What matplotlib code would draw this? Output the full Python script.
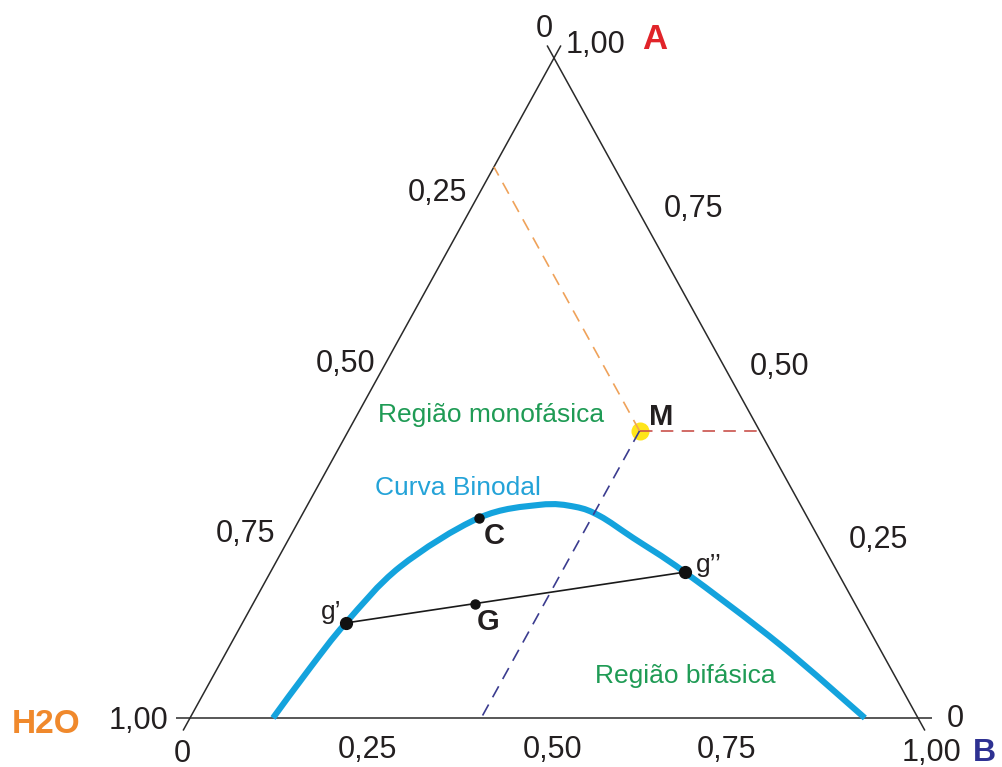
import numpy as np
import matplotlib
matplotlib.use("Agg")
import matplotlib.pyplot as plt
from matplotlib.path import Path
from matplotlib.patches import PathPatch
from matplotlib.transforms import IdentityTransform

plt.rcParams['font.family'] = ['Liberation Sans', 'DejaVu Sans']
plt.rcParams['lines.scale_dashes'] = False

# ---- data: compositions as mass fractions of A and B (water = 1 - A - B) ----
binodal_A = [0.000, 0.076, 0.144, 0.229, 0.303, 0.323, 0.320, 0.306,
             0.273, 0.221, 0.111, 0.000]
binodal_B = [0.114, 0.127, 0.142, 0.174, 0.245, 0.319, 0.369, 0.410,
             0.472, 0.569, 0.755, 0.927]

M_A, M_B = 0.435, 0.400          # single-phase mixture M
C_A, C_B = 0.303, 0.245          # point C on the binodal
G_A, G_B = 0.173, 0.305          # overall two-phase composition G
tie_A = [0.144, 0.221]           # tie line ends g' and g''
tie_B = [0.142, 0.569]

tick_values = [0.0, 0.25, 0.50, 0.75, 1.00]
tick_labels = ["0", "0,25", "0,50", "0,75", "1,00"]

# ---- figure ----
W, H = 1003, 767
fig = plt.figure(figsize=(W / 100, H / 100), dpi=100)
ax = fig.add_axes([0, 0, 1, 1])
ax.set_xlim(-190 / 728, 813 / 728)
ax.set_ylim((718 - 767) / 660, 718 / 660)
ax.axis('off')


def xy(a, b):
    """Ternary (A, B) -> cartesian; H2O at left, B at right, A on top."""
    a = np.asarray(a, float)
    b = np.asarray(b, float)
    return b + 0.5 * a, a


def px(x, y):
    return (x, H - y)


PIX = IdentityTransform()
edge_kw = dict(color='#2a2a2a', lw=1.1, solid_capstyle='butt')

# triangle sides, running slightly past the corners
ext = np.array([-0.019, 1.019])
ax.plot(*xy(ext, [0, 0]), **edge_kw)            # H2O - A side
ax.plot(*xy(ext, 1 - ext), **edge_kw)           # A - B side
ax.plot(*xy([0, 0], ext), **edge_kw)            # H2O - B side

# side labels: left = water fraction, right = A fraction, bottom = B fraction
left_off = [(-1, -21), (4, -22), (3, -16), (-6, -11), (-22, 11)]
right_off = [(29, 9), (22, -5), (14, -13), (19, -6), (12, -5)]
bottom_off = [(-8, 44), (-5, 40), (-1, 40), (-9, 40), (14, 43)]
tick_kw = dict(fontsize=22, color='#231f20', va='baseline',
               textcoords='offset pixels')
for t, lab, (dx, dy) in zip(tick_values, tick_labels, left_off):
    ax.annotate(lab, xy(1 - t, 0), xytext=(dx, -dy), ha='right', **tick_kw)
for t, lab, (dx, dy) in zip(tick_values, tick_labels, right_off):
    ax.annotate(lab, xy(t, 1 - t), xytext=(dx, -dy), ha='left', **tick_kw)
for t, lab, (dx, dy) in zip(tick_values, tick_labels, bottom_off):
    ax.annotate(lab, xy(0, t), xytext=(dx, -dy), ha='center', **tick_kw)

# component names at the corners
fig.text(*px(642, 49), "A", transform=PIX, fontsize=25, fontweight='bold',
         color='#e1242a', va='baseline')
fig.text(*px(973, 761), "B", transform=PIX, fontsize=23, fontweight='bold',
         color='#2e3192', va='baseline')
fig.text(*px(12, 733), "H2O", transform=PIX, fontsize=24, fontweight='bold',
         color='#f0892c', va='baseline')

# binodal curve: smooth Catmull-Rom path through the measured compositions
bx, by = xy(binodal_A, binodal_B)
P = np.column_stack([bx, by])
verts, codes = [P[0]], [Path.MOVETO]
n = len(P)
for i in range(n - 1):
    p0 = P[i - 1] if i > 0 else P[i]
    p1, p2 = P[i], P[i + 1]
    p3 = P[i + 2] if i + 2 < n else P[i + 1]
    verts += [p1 + (p2 - p0) / 6, p2 - (p3 - p1) / 6, p2]
    codes += [Path.CURVE4] * 3
ax.add_patch(PathPatch(Path(verts, codes), fill=False, edgecolor='#14a3dd',
                       lw=4.4, capstyle='butt', joinstyle='round', zorder=3))

# point M and its composition read-outs
ax.plot(*xy(M_A, M_B), 'o', ms=13, color='#ffe51a', mec='none', zorder=4)
dash = (9, 6)
ax.plot(*xy([M_A, M_A + M_B], [M_B, 0]), color='#efa25a', lw=1.2,
        dashes=dash, zorder=5)
ax.plot(*xy([M_A, M_A], [M_B, 1 - M_A]), color='#c9524c', lw=1.2,
        dashes=dash, zorder=5)
ax.plot(*xy([M_A, 0], [M_B, M_B]), color='#3b3c8f', lw=1.2,
        dashes=dash, zorder=5)

# tie line g'-g'' through G
ax.plot(*xy(tie_A, tie_B), color='#1a1a1a', lw=1.2, zorder=6)
ax.plot(*xy(tie_A, tie_B), 'o', ms=8.5, color='#111111', zorder=7)
ax.plot(*xy([G_A, C_A], [G_B, C_B]), 'o', ls='none', ms=6.5,
        color='#111111', zorder=7)

# point labels
bold_kw = dict(transform=PIX, fontsize=21, fontweight='bold',
               color='#231f20', va='baseline')
fig.text(*px(649, 425), "M", **bold_kw)
fig.text(*px(484, 544), "C", **bold_kw)
fig.text(*px(477, 630), "G", **bold_kw)
fig.text(*px(321, 619), "g\u2019", transform=PIX, fontsize=19,
         color='#231f20', va='baseline')
fig.text(*px(696, 572), "g\u2019\u2019", transform=PIX, fontsize=19,
         color='#231f20', va='baseline')

# region names
fig.text(*px(378, 422), "Região monofásica", transform=PIX, fontsize=19,
         color='#1f9b55', va='baseline')
fig.text(*px(375, 495), "Curva Binodal", transform=PIX, fontsize=19,
         color='#24a3d8', va='baseline')
fig.text(*px(595, 683), "Região bifásica", transform=PIX, fontsize=19,
         color='#1f9b55', va='baseline')

fig.savefig("out.png", dpi=100, facecolor='white')
